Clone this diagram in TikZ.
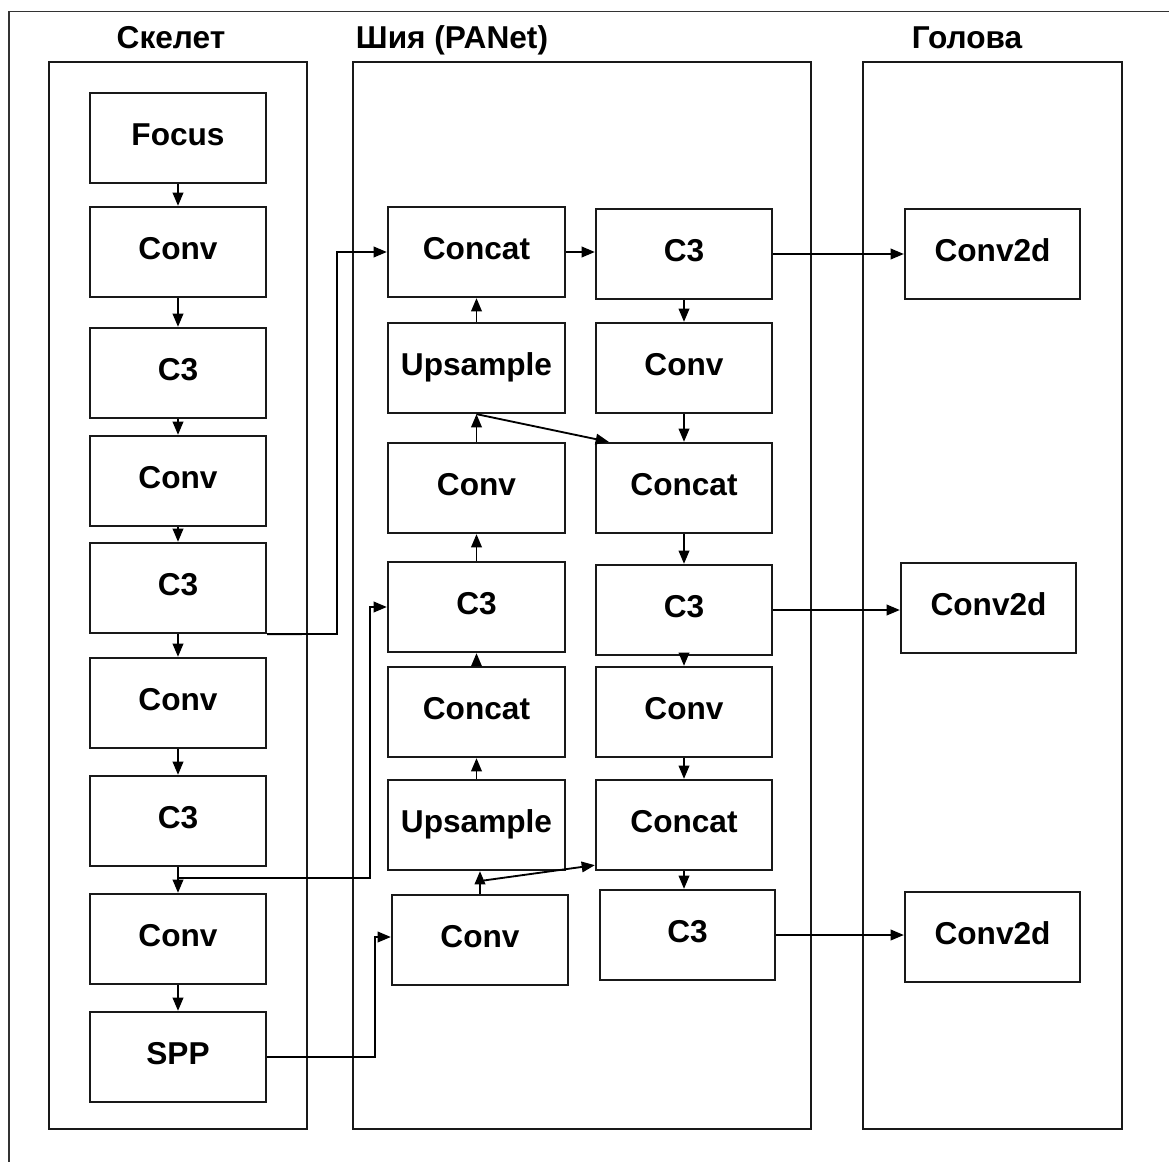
\documentclass[tikz,border=0pt]{standalone}
\usepackage{fontspec}
\setmainfont{Liberation Sans}
\usetikzlibrary{arrows.meta,calc}

\tikzset{
  blk/.style={draw=black!90, line width=1.3pt, fill=white, inner sep=0pt,
    font=\fontsize{18}{20}\selectfont\bfseries, text height=13pt, text depth=4pt},
  panel/.style={draw=black!90, line width=1.2pt, inner sep=0pt},
  frame/.style={draw=black!80, line width=0.9pt},
  arr/.style={draw=black, line width=1.05pt, -{Triangle[length=7.5pt,width=6pt]}},
  ttl/.style={font=\fontsize{18}{20}\selectfont\bfseries, inner sep=0pt,
    text height=13pt, text depth=4pt},
}

% \placebox{style}{name}{x1}{y1}{x2}{y2}{text}
\newcommand\placebox[7]{%
  \node[#1, minimum width={(#5-#3)*0.02cm}, minimum height={(#6-#4)*0.02cm}]
    (#2) at ({(#3+#5)/2},{(#4+#6)/2}) {#7};}

\begin{document}
\begin{tikzpicture}[x=0.02cm, y=-0.02cm]
\useasboundingbox (0,0) rectangle (1169,1162);

% outer frame
\draw[frame] (9,1162) -- (9,11.5) -- (1169,11.5);

% section panels
\placebox{panel}{pb}{49}{62}{307}{1129}{}
\placebox{panel}{pn}{353}{62}{811}{1129}{}
\placebox{panel}{ph}{863}{62}{1122}{1129}{}

% titles
\node[ttl] (tb) at (171,41) {Скелет};
\node[ttl] (tn) at (452,41) {Шия (PANet)};
\node[ttl] (th) at (967,41) {Голова};

% backbone
\placebox{blk}{b0}{90}{93}{266}{183}{Focus}
\placebox{blk}{b1}{90}{207}{266}{297}{Conv}
\placebox{blk}{b2}{90}{328}{266}{418}{C3}
\placebox{blk}{b3}{90}{436}{266}{526}{Conv}
\placebox{blk}{b4}{90}{543}{266}{633}{C3}
\placebox{blk}{b5}{90}{658}{266}{748}{Conv}
\placebox{blk}{b6}{90}{776}{266}{866}{C3}
\placebox{blk}{b7}{90}{894}{266}{984}{Conv}
\placebox{blk}{b8}{90}{1012}{266}{1102}{SPP}

% neck, upward path
\placebox{blk}{l1}{388}{207}{565}{297}{Concat}
\placebox{blk}{l2}{388}{323}{565}{413}{Upsample}
\placebox{blk}{l3}{388}{443}{565}{533}{Conv}
\placebox{blk}{l4}{388}{562}{565}{652}{C3}
\placebox{blk}{l5}{388}{667}{565}{757}{Concat}
\placebox{blk}{l6}{388}{780}{565}{870}{Upsample}
\placebox{blk}{l7}{392}{895}{568}{985}{Conv}

% neck, downward path
\placebox{blk}{r1}{596}{209}{772}{299}{C3}
\placebox{blk}{r2}{596}{323}{772}{413}{Conv}
\placebox{blk}{r3}{596}{443}{772}{533}{Concat}
\placebox{blk}{r4}{596}{565}{772}{655}{C3}
\placebox{blk}{r5}{596}{667}{772}{757}{Conv}
\placebox{blk}{r6}{596}{780}{772}{870}{Concat}
\placebox{blk}{r7}{600}{890}{775}{980}{C3}

% head
\placebox{blk}{h1}{905}{209}{1080}{299}{Conv2d}
\placebox{blk}{h2}{901}{563}{1076}{653}{Conv2d}
\placebox{blk}{h3}{905}{892}{1080}{982}{Conv2d}

% backbone chain
\foreach \a/\b in {b0/b1,b1/b2,b2/b3,b3/b4,b4/b5,b5/b6,b6/b7,b7/b8}
  \draw[arr] (\a.south) -- (\a.south |- \b.north);

% neck upward chain
\foreach \a/\b in {l2/l1,l3/l2,l4/l3,l5/l4,l6/l5,l7/l6}
  \draw[arr] (\a.north) -- (\a.north |- \b.south);

% neck downward chain
\foreach \a/\b in {r1/r2,r2/r3,r3/r4,r4/r5,r5/r6,r6/r7}
  \draw[arr] (\a.south) -- (\a.south |- \b.north);

% concat -> C3 at the top of the neck
\draw[arr] (l1.east) -- (l1.east -| r1.west);

% neck -> head
\draw[arr] (r1.east) -- (r1.east -| h1.west);
\draw[arr] (r4.east) -- (r4.east -| h2.west);
\draw[arr] (r7.east) -- (r7.east -| h3.west);

% skip connections from the backbone
\coordinate (k1) at (337,634);
\draw[arr] (b4.south east) -- (k1) |- (l1.west);

\coordinate (j1) at (178,878);
\coordinate (k2) at (370,878);
\draw[arr] (j1) -- (k2) |- (l4.west);

\coordinate (k3) at (375,1057);
\draw[arr] (b8.east) -- (k3) |- ([yshift=0.06cm]l7.west);

% lateral links across the neck
\draw[arr] (l2.south) -- ([xshift=0.28cm]r3.north west);
\coordinate (j2) at (480,881);
\draw[arr] (j2) -- ([yshift=0.12cm]r6.south west);

\end{tikzpicture}
\end{document}
